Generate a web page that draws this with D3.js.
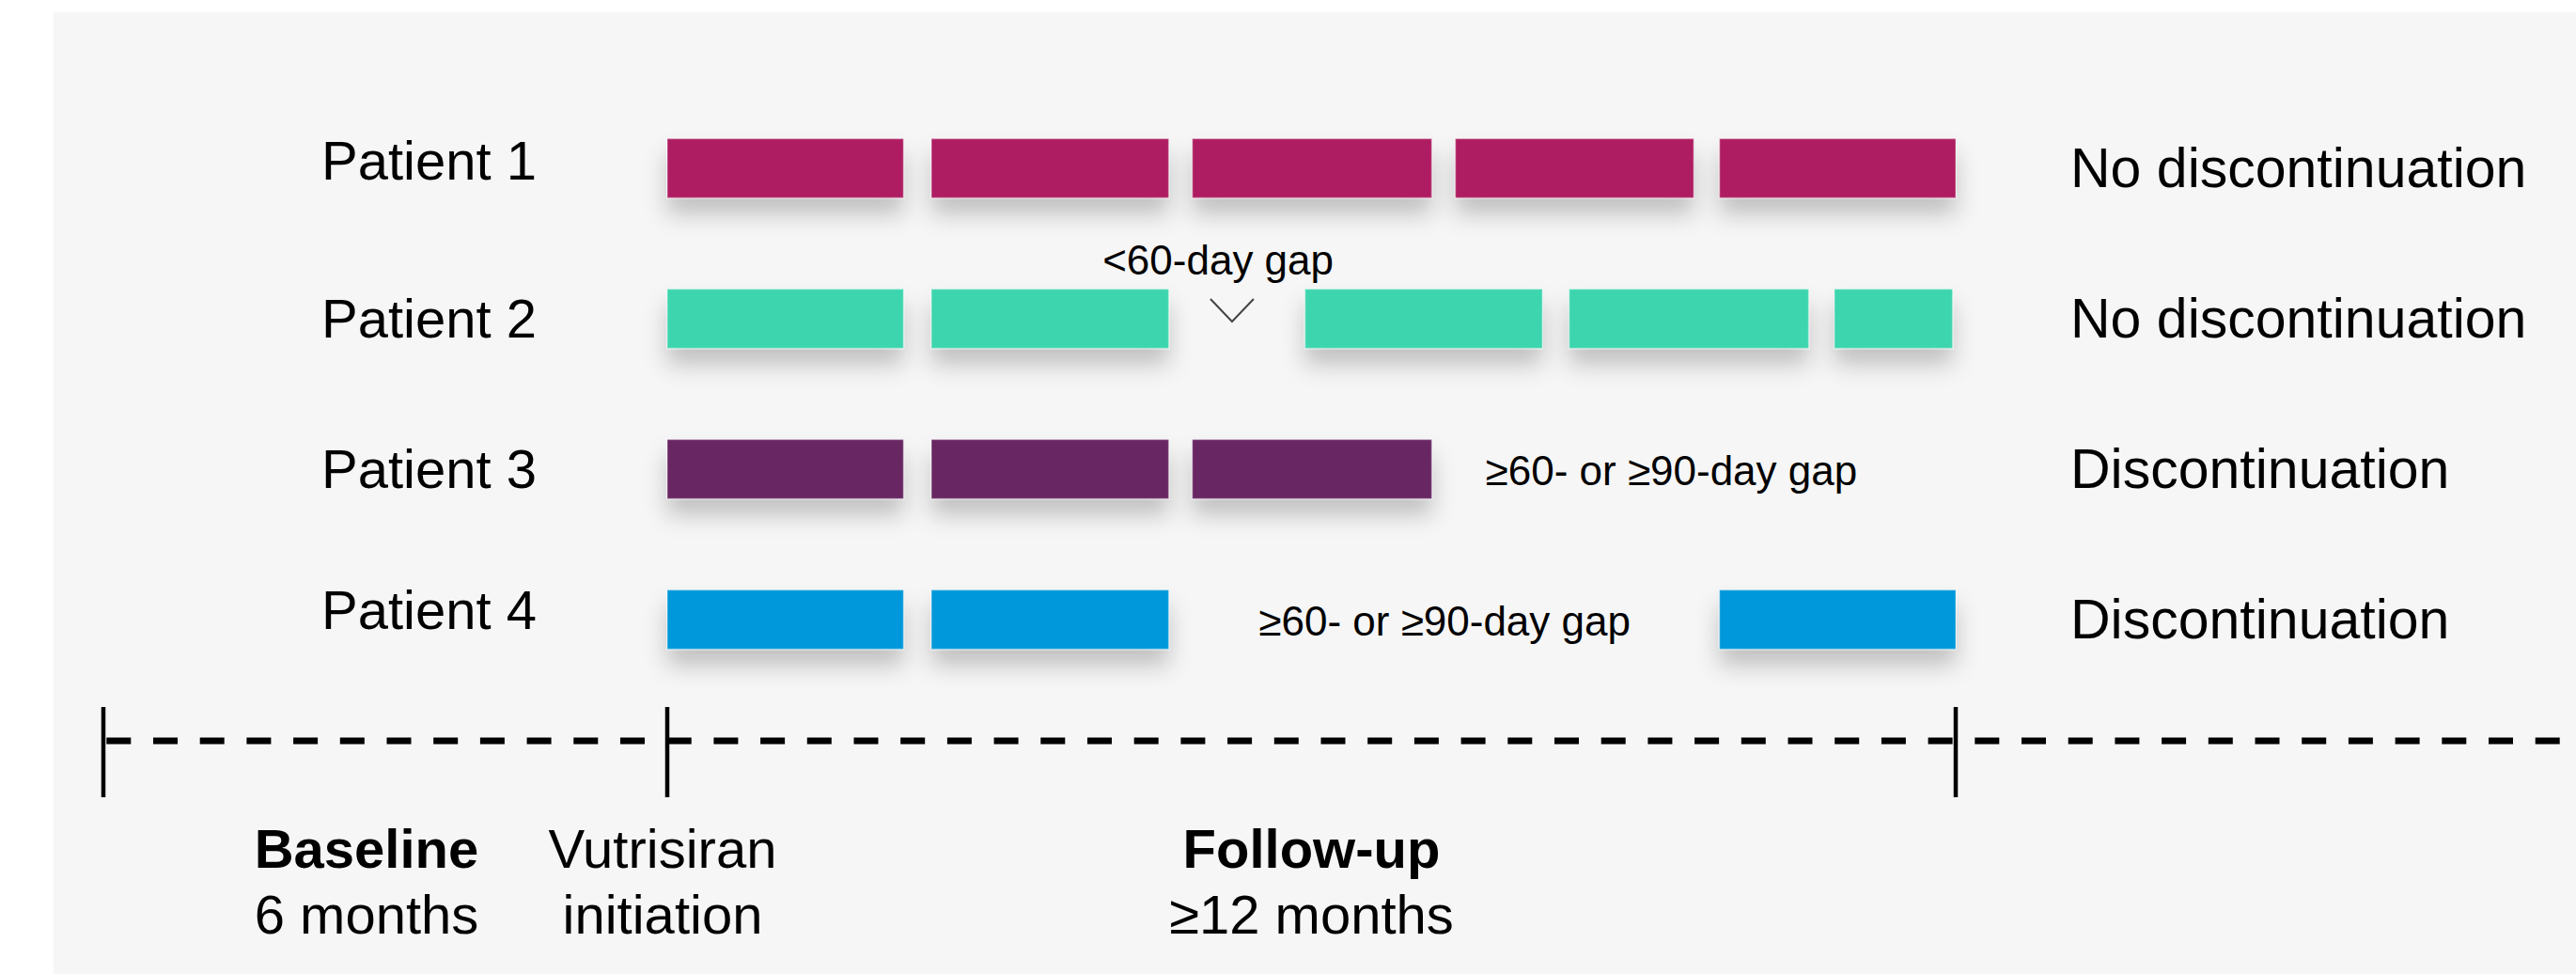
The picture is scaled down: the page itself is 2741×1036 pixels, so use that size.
<!DOCTYPE html>
<html>
<head>
<meta charset="utf-8">
<script src="https://cdn.jsdelivr.net/npm/d3@7"></script>
<style>
  html, body { margin: 0; padding: 0; background: #ffffff; }
  svg { display: block; }
  text { font-family: "Liberation Sans", Arial, sans-serif; fill: #000; }
</style>
</head>
<body>
<svg id="chart" width="2741" height="1036"></svg>
<script>
// ---------------- DATA ----------------
const patients = ["Patient 1", "Patient 2", "Patient 3", "Patient 4"];
const outcomes = ["No discontinuation", "No discontinuation", "Discontinuation", "Discontinuation"];
const barColors = ["#AE1F62", "#3ED5AE", "#672562", "#0098DA"];

// treatment periods, in months since vutrisiran initiation [start, end]
const patient1Periods = [[0, 2.2], [2.46, 4.67], [4.89, 7.12], [7.34, 9.56], [9.8, 12]];
const patient2Periods = [[0, 2.2], [2.46, 4.67], [5.94, 8.15], [8.4, 10.63], [10.87, 11.97]];
const patient3Periods = [[0, 2.2], [2.46, 4.67], [4.89, 7.12]];
const patient4Periods = [[0, 2.2], [2.46, 4.67], [9.8, 12]];
const periods = [patient1Periods, patient2Periods, patient3Periods, patient4Periods];

// gap annotations
const gapLabels = ["<60-day gap", "\u226560- or \u226590-day gap", "\u226560- or \u226590-day gap"];
const gapLabelRows = ["Patient 2", "Patient 3", "Patient 4"];
const gapLabelMonths = [5.13, 7.62, 7.24];
const gapLabelAnchors = ["middle", "start", "middle"];
const gapLabelAbove = [true, false, false];
const gapMarkerRow = "Patient 2";
const gapMarkerMonth = 5.26;

// timeline
const timelineTicks = [-6, 0, 12];
const phaseTitles = ["Baseline", "Vutrisiran", "Follow-up"];
const phaseSubtitles = ["6 months", "initiation", "\u226512 months"];
const phaseBold = [true, false, true];
const phaseMonths = [-3.2, -0.05, 6];

// ---------------- LAYOUT ----------------
const W = 2741, H = 1036;
const svg = d3.select("#chart");

const x = d3.scaleLinear().domain([-6, 0, 12]).range([110, 710, 2081]);
const y = d3.scalePoint().domain(patients).range([179, 659]);
const barH = 63;
const FS = 58, FSright = 59, FSgap = 44;
const patientLabelDy = [12, 20, 20, 10];

const defs = svg.append("defs");
const f = defs.append("filter").attr("id", "shadow")
  .attr("x", "-20%").attr("y", "-40%").attr("width", "140%").attr("height", "220%");
f.append("feDropShadow").attr("dx", 0).attr("dy", 17).attr("stdDeviation", 12)
  .attr("flood-color", "#000").attr("flood-opacity", 0.22);

// panel background
svg.append("rect").attr("x", 57).attr("y", 13).attr("width", W - 57).attr("height", H - 13)
  .attr("fill", "#F6F6F6");

// patient labels
svg.append("g").selectAll("text").data(patients).join("text")
  .attr("x", 342).attr("y", (d, i) => y(d) + patientLabelDy[i])
  .attr("font-size", FS).text(d => d);

// outcome labels
svg.append("g").selectAll("text").data(outcomes).join("text")
  .attr("x", 2203).attr("y", (d, i) => y(patients[i]) + 20)
  .attr("font-size", FSright).text(d => d);

// bars
const barData = [];
periods.forEach((ps, i) => ps.forEach(p => barData.push({ p: patients[i], c: barColors[i], s: p[0], e: p[1] })));
svg.append("g").selectAll("rect").data(barData).join("rect")
  .attr("x", d => x(d.s)).attr("width", d => x(d.e) - x(d.s))
  .attr("y", d => y(d.p) - barH / 2).attr("height", barH)
  .attr("fill", d => d.c)
  .attr("stroke", "rgba(255,255,255,0.3)").attr("stroke-width", 1.5)
  .attr("filter", "url(#shadow)");

// gap labels
svg.append("g").selectAll("text").data(gapLabels).join("text")
  .attr("x", (d, i) => x(gapLabelMonths[i]))
  .attr("y", (d, i) => gapLabelAbove[i] ? y(gapLabelRows[i]) - 47 : y(gapLabelRows[i]) + 17)
  .attr("text-anchor", (d, i) => gapLabelAnchors[i])
  .attr("font-size", FSgap).text(d => d);

// chevron marker
const cx = x(gapMarkerMonth), cy = y(gapMarkerRow);
svg.append("path")
  .attr("d", d3.line()([[cx - 23, cy - 21], [cx, cy + 3], [cx + 23, cy - 21]]))
  .attr("fill", "none").attr("stroke", "#444").attr("stroke-width", 2);

// timeline
const ty = 788;
svg.append("line").attr("x1", x(-6)).attr("x2", 2724).attr("y1", ty).attr("y2", ty)
  .attr("stroke", "#000").attr("stroke-width", 7)
  .attr("stroke-dasharray", "26 23.7").attr("stroke-dashoffset", 46.4);
svg.append("g").selectAll("line").data(timelineTicks).join("line")
  .attr("x1", d => x(d)).attr("x2", d => x(d))
  .attr("y1", 752).attr("y2", 848)
  .attr("stroke", "#000").attr("stroke-width", 4.5);

// phase labels
svg.append("g").selectAll("text").data(phaseTitles).join("text")
  .attr("x", (d, i) => x(phaseMonths[i])).attr("y", 923)
  .attr("text-anchor", "middle").attr("font-size", FS)
  .attr("font-weight", (d, i) => phaseBold[i] ? "bold" : "normal").text(d => d);
svg.append("g").selectAll("text").data(phaseSubtitles).join("text")
  .attr("x", (d, i) => x(phaseMonths[i])).attr("y", 993)
  .attr("text-anchor", "middle").attr("font-size", FS).text(d => d);
</script>
</body>
</html>
